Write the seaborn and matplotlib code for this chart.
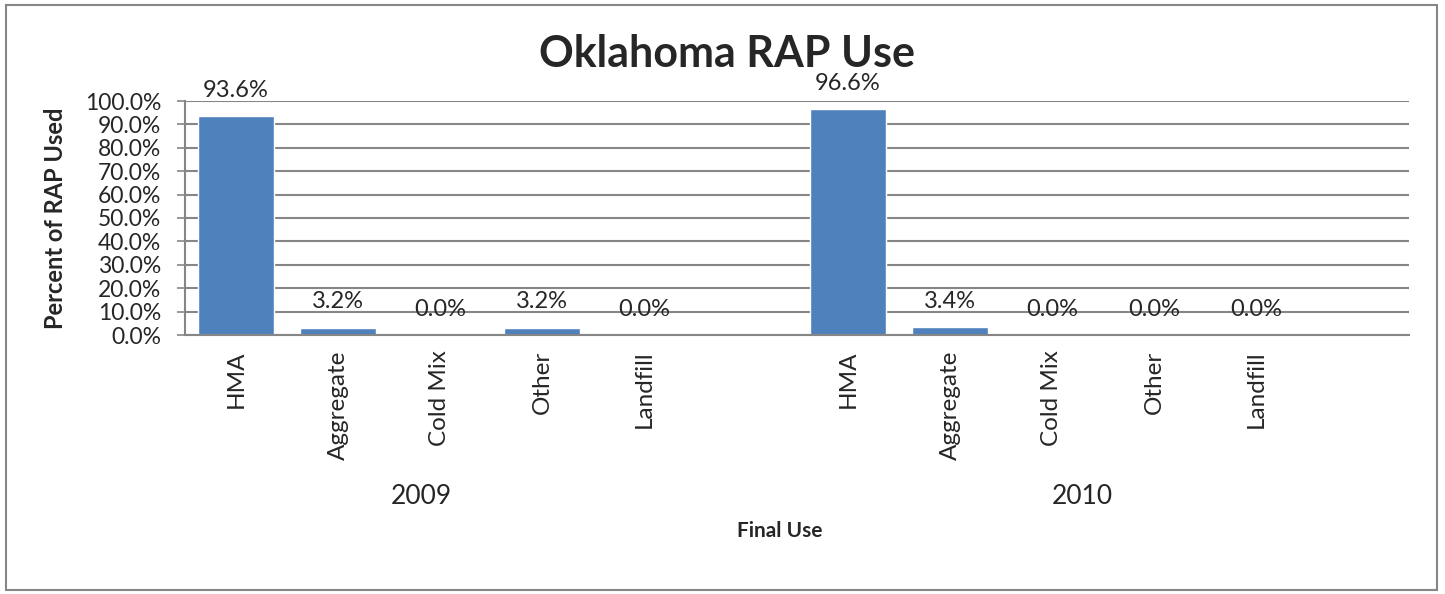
import matplotlib
matplotlib.use("Agg")
import matplotlib.pyplot as plt
import matplotlib.transforms as mtransforms
from matplotlib.patches import Rectangle
import seaborn as sns
import pandas as pd
import numpy as np

years = ["2009", "2010"]
categories = ["HMA", "Aggregate", "Cold Mix", "Other", "Landfill"]
values_2009 = [93.6, 3.2, 0.0, 3.2, 0.0]
values_2010 = [96.6, 3.4, 0.0, 0.0, 0.0]
yticks = [0, 10, 20, 30, 40, 50, 60, 70, 80, 90, 100]

# build slot table (each year group followed by a blank slot)
rows = []
for yr, vals in zip(years, [values_2009, values_2010]):
    for c, v in zip(categories, vals):
        rows.append({"slot": f"{yr}|{c}", "cat": c, "year": yr, "value": v})
    rows.append({"slot": f"{yr}|", "cat": "", "year": yr, "value": np.nan})
df = pd.DataFrame(rows)

sns.set_theme(style="white")
plt.rcParams["font.family"] = ["Lato", "DejaVu Sans"]

fig = plt.figure(figsize=(14.45, 5.94), dpi=100)
ax = fig.add_axes([185/1445, 1-335/594, 1224/1445, 234/594])

sns.barplot(data=df, x="slot", y="value", order=list(df["slot"]),
            color="#4F81BD", saturation=1, width=0.75, ax=ax, errorbar=None)

ax.set_ylim(0, 100)
ax.set_xlim(-0.5, len(df) - 0.5)
ax.set_yticks(yticks)
ax.set_yticklabels([f"{t:.1f}%" for t in yticks], fontsize=16.5)
ax.yaxis.grid(True, color="#868686", linewidth=1.5)
ax.set_axisbelow(True)
ax.tick_params(axis="y", length=6, width=1.2, color="#868686", pad=11, direction="out", left=True)
ax.set_xticks(range(len(df)))
ax.set_xticklabels(list(df["cat"]), rotation=90, fontsize=17.5, va="top")
ax.tick_params(axis="x", length=0, pad=11)
for s in ["top", "right"]:
    ax.spines[s].set_visible(False)
for s in ["left", "bottom"]:
    ax.spines[s].set_color("#868686")
    ax.spines[s].set_linewidth(1.5)

# data labels
for cont in ax.containers:
    labels = ["" if np.isnan(v) else f"{v:.1f}%" for v in cont.datavalues]
    ax.bar_label(cont, labels=labels, padding=11, fontsize=17)

ax.set_ylabel("Percent of RAP Used", fontsize=17, fontweight="bold")
ax.yaxis.set_label_coords(-0.0964, 0.5)
ax.set_xlabel("Final Use", fontsize=15, fontweight="bold")
ax.xaxis.set_label_coords(0.486, -0.795)

trans = mtransforms.blended_transform_factory(ax.transData, ax.transAxes)
year_x = {"2009": 1.82, "2010": 8.3}
for yr in years:
    ax.text(year_x[yr], -0.69, yr, transform=trans, ha="center", va="center", fontsize=19)

fig.text(727/1445, 1-54/594, "Oklahoma RAP Use", ha="center", va="center",
         fontsize=31, fontweight="bold")

fig.patches.append(Rectangle((6/1445, 1-590/594), 1431/1445, 585/594,
                             transform=fig.transFigure, fill=False,
                             edgecolor="#868686", linewidth=1.5))

fig.savefig("out.png", dpi=100)
